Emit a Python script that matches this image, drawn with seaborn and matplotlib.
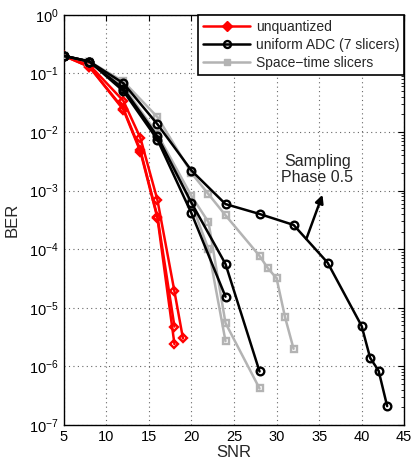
import numpy as np
import pandas as pd
import matplotlib
matplotlib.use("Agg")
import matplotlib.pyplot as plt
import seaborn as sns
from matplotlib.lines import Line2D

sns.set_style("white")
plt.rcParams['font.family'] = ['Liberation Sans', 'DejaVu Sans']

# ---- data ----
# unquantized (red), three sampling phases
red1_x = [5, 8, 12, 14, 16, 18, 19]
red1_y = [0.2, 0.14, 0.034, 0.0079, 6.9e-4, 1.9e-5, 3.0e-6]
red2_x = [5, 8, 12, 14, 16, 18]
red2_y = [0.2, 0.13, 0.025, 0.0049, 3.6e-4, 4.8e-6]
red3_x = [5, 8, 12, 14, 16, 18]
red3_y = [0.2, 0.13, 0.024, 0.0046, 3.4e-4, 2.4e-6]

# uniform ADC (7 slicers) (black)
blk1_x = [5, 8, 12, 16, 20, 24, 28, 32, 36, 40, 41, 42, 43]
blk1_y = [0.2, 0.16, 0.068, 0.0136, 2.2e-3, 5.9e-4, 4.0e-4, 2.6e-4, 5.9e-5,
          4.9e-6, 1.4e-6, 8.4e-7, 2.1e-7]
blk2_x = [5, 8, 12, 16, 20, 24, 28]
blk2_y = [0.2, 0.16, 0.055, 0.0084, 6.2e-4, 5.6e-5, 8.2e-7]
blk3_x = [5, 8, 12, 16, 20, 24]
blk3_y = [0.2, 0.16, 0.05, 0.0074, 4.1e-4, 1.55e-5]

# Space-time slicers (gray)
gry1_x = [5, 8, 12, 16, 20, 22, 24, 28, 29, 30, 31, 32]
gry1_y = [0.2, 0.16, 0.073, 0.018, 2.0e-3, 8.7e-4, 3.8e-4, 7.7e-5, 4.7e-5,
          3.2e-5, 6.9e-6, 2.0e-6]
gry2_x = [5, 8, 12, 16, 20, 22, 24, 28]
gry2_y = [0.2, 0.16, 0.06, 0.0092, 8.1e-4, 2.9e-4, 5.5e-6, 4.2e-7]
gry3_x = [5, 8, 12, 16, 20, 22, 24]
gry3_y = [0.2, 0.16, 0.055, 0.0080, 6.0e-4, 1.0e-4, 2.7e-6]

legend_labels = ["unquantized", "uniform ADC (7 slicers)", "Space\u2212time slicers"]

RED = "#ff0000"
BLACK = "#000000"
GRAY = "#b3b3b3"

fig = plt.figure(figsize=(4.12, 4.65), dpi=100)
ax = fig.add_axes([0.155, 0.086, 0.826, 0.882])

def draw(xs, ys, color, marker, ms, z):
    df = pd.DataFrame({"SNR": xs, "BER": ys})
    sns.lineplot(data=df, x="SNR", y="BER", ax=ax, color=color, marker=marker,
                 markersize=ms, markerfacecolor="none", markeredgecolor=color,
                 markeredgewidth=1.7, linewidth=1.8, estimator=None, sort=False,
                 zorder=z)

for xs, ys in [(red1_x, red1_y), (red2_x, red2_y), (red3_x, red3_y)]:
    draw(xs, ys, RED, "D", 4.5, 3)
for xs, ys in [(gry1_x, gry1_y), (gry2_x, gry2_y), (gry3_x, gry3_y)]:
    draw(xs, ys, GRAY, "s", 4.5, 4)
for xs, ys in [(blk1_x, blk1_y), (blk2_x, blk2_y), (blk3_x, blk3_y)]:
    draw(xs, ys, BLACK, "o", 5.5, 5)

ax.set_yscale("log")
ax.set_xlim(5, 45)
ax.set_ylim(1e-7, 1e0)
ax.set_xticks(np.arange(5, 46, 5))
ax.set_yticks([10.0 ** k for k in range(-7, 1)])
ax.grid(True, which="major", linestyle=(0, (1, 3)), color="#666666", linewidth=0.8)
ax.tick_params(axis="both", which="both", direction="in", labelsize=10.5,
               top=True, right=True, colors="black")
ax.tick_params(which="major", length=4)
ax.tick_params(which="minor", length=2)
for s in ax.spines.values():
    s.set_color("black")
    s.set_linewidth(1.0)
ax.set_xlabel("SNR", fontsize=12, labelpad=1)
ax.set_ylabel("BER", fontsize=12, labelpad=7)

handles = [
    Line2D([], [], color=RED, marker="D", markersize=5, markerfacecolor=RED, linewidth=1.8),
    Line2D([], [], color=BLACK, marker="o", markersize=5, markerfacecolor="none", markeredgewidth=1.7, linewidth=1.8),
    Line2D([], [], color=GRAY, marker="s", markersize=5, markerfacecolor=GRAY, linewidth=1.8),
]
leg = ax.legend(handles, legend_labels, loc="upper right", fontsize=10,
                frameon=True, fancybox=False, edgecolor="black", framealpha=1,
                borderpad=0.35, labelspacing=0.3, handlelength=3.4,
                handletextpad=0.4, borderaxespad=0.0)
leg.get_frame().set_linewidth(1.2)

ax.text(34.8, 2.3e-3, "Sampling\nPhase 0.5", ha="center", va="center",
        fontsize=11.5, linespacing=1.1)
ax.annotate("", xy=(35.4, 8.5e-4), xytext=(33.5, 1.5e-4),
            arrowprops=dict(arrowstyle="-|>", color="black", lw=1.8,
                            mutation_scale=12, shrinkA=0, shrinkB=0))

fig.savefig("out.png", dpi=100)
